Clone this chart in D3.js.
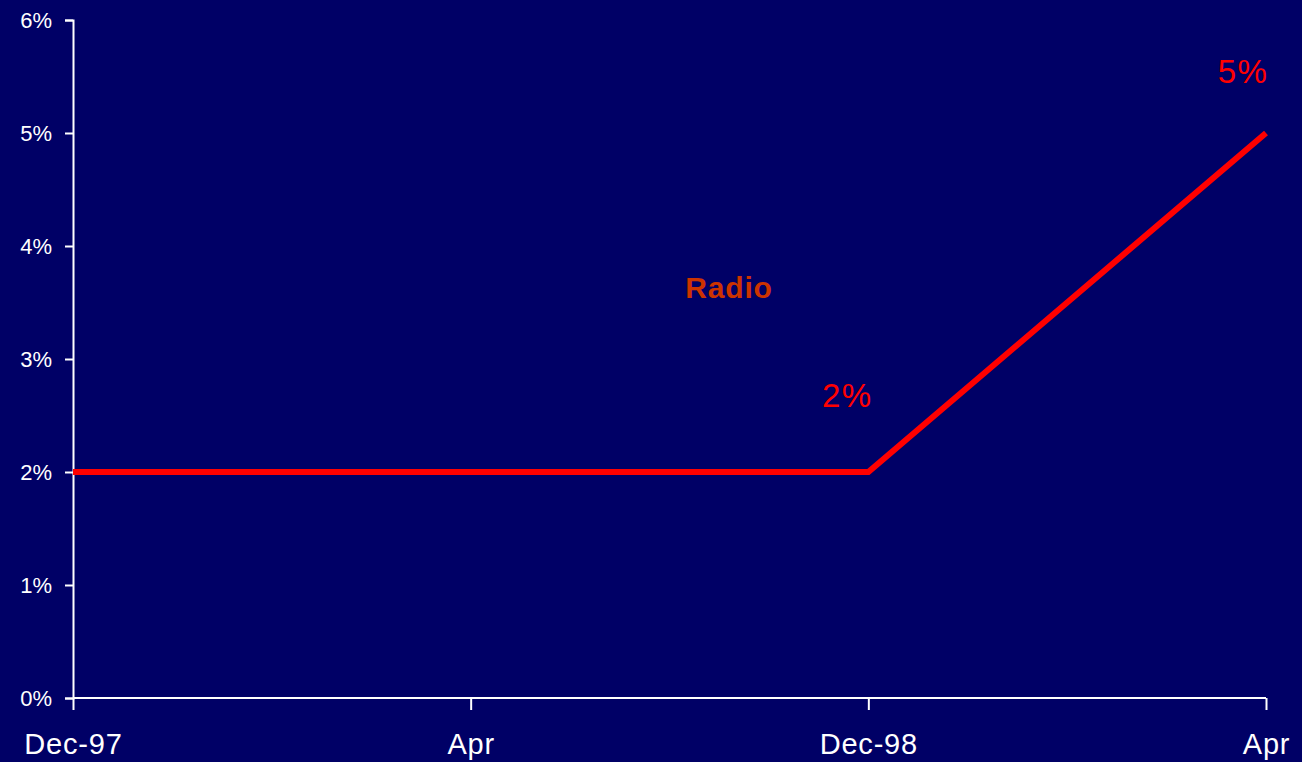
<!DOCTYPE html>
<html><head><meta charset="utf-8">
<script src="https://cdn.jsdelivr.net/npm/d3@7"></script>
<style>html,body{margin:0;padding:0;background:#000066;overflow:hidden}</style>
</head><body>
<svg id="c" width="1302" height="762"></svg>
<script>
const categories = ["Dec-97", "Apr", "Dec-98", "Apr "];
const radioValues = [0.02, 0.02, 0.02, 0.05];
const yTicks = [0, 0.01, 0.02, 0.03, 0.04, 0.05, 0.06];
const pointLabels = [null, null, "2%", "5%"];
const seriesName = "Radio";
const labelOffsets = [[0,0],[0,0],[-21,-65],[-23,-50]];

const FONT = "Liberation Sans, Arial, sans-serif";
const svg = d3.select("#c");
svg.append("rect").attr("width",1302).attr("height",762).attr("fill","#000066");

const x = d3.scalePoint().domain(categories).range([73, 1266]);
const y = d3.scaleLinear().domain([0, 0.06]).range([698, 20]);

const yAxis = svg.append("g").attr("transform","translate(73,0)")
  .call(d3.axisLeft(y).tickValues(yTicks).tickFormat(d3.format(".0%")).tickSize(8).tickPadding(13));
yAxis.selectAll("path,line").attr("stroke","#ffffff").attr("stroke-width",2);
yAxis.selectAll("text").attr("fill","#ffffff").attr("font-family",FONT).attr("font-size","22px");

const xAxis = svg.append("g").attr("transform","translate(0,698)")
  .call(d3.axisBottom(x).tickSize(12).tickPadding(23).tickSizeOuter(0));
xAxis.select("path").attr("stroke","#ffffff").attr("stroke-width",2).attr("d","M73,0H1266");
xAxis.selectAll("line").attr("stroke","#ffffff").attr("stroke-width",2);
xAxis.selectAll("text").attr("fill","#ffffff").attr("font-family",FONT).attr("font-size","29px")
  .attr("letter-spacing","0.8px");

const line = d3.line().x((d,i)=>x(categories[i])).y(d=>y(d));
svg.append("path").datum(radioValues).attr("d",line)
  .attr("fill","none").attr("stroke","#ff0000").attr("stroke-width",6).attr("stroke-linejoin","miter");

const pts = radioValues.map((v,i)=>({v, cat:categories[i], label:pointLabels[i], off:labelOffsets[i]}))
  .filter(p=>p.label);
svg.selectAll("text.pl").data(pts).enter().append("text").attr("class","pl")
  .attr("x",p=>x(p.cat) + p.off[0])
  .attr("y",p=>y(p.v) + p.off[1])
  .attr("text-anchor","middle")
  .attr("fill","#ff0000").attr("font-family",FONT).attr("font-size","33px")
  .attr("letter-spacing","1.5px")
  .text(p=>p.label);

svg.append("text").attr("x",729).attr("y",298).attr("text-anchor","middle")
  .attr("fill","#cc3300").attr("font-family",FONT)
  .attr("font-weight","bold").attr("font-size","30px").attr("letter-spacing","0.8px").text(seriesName);
</script>
</body></html>
